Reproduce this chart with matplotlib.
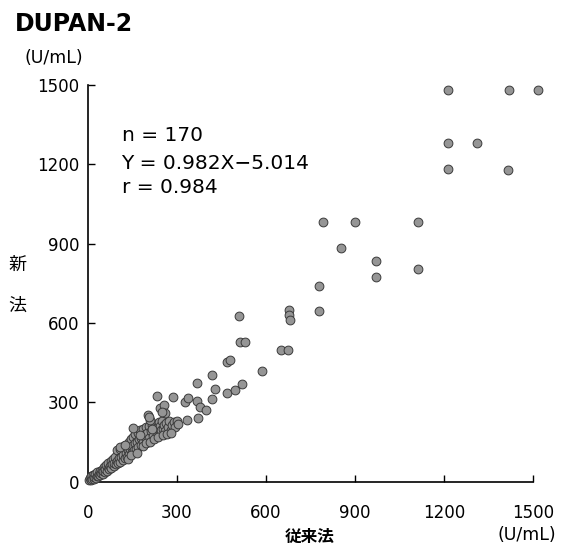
import matplotlib
matplotlib.use("Agg")
import matplotlib.pyplot as plt

plt.rcParams["font.family"] = ["DejaVu Sans", "Noto Sans CJK JP"]

# conventional method (x) vs new method (y), U/mL
# sparse / high-value points
x_high = [1214, 1420, 1517, 1214, 1313, 1214, 1416, 793, 901, 1113, 853, 972, 972,
          1113, 778, 778, 678, 678, 680, 510, 513, 530, 651, 676, 588, 468, 479, 418,
          367, 429, 418, 468, 496, 519, 232, 286, 244, 257, 260, 250, 204, 210, 206,
          328, 339, 367, 378, 398, 333, 373, 154]
y_high = [1481, 1481, 1481, 1282, 1282, 1182, 1179, 983, 983, 981, 882, 834, 775,
          803, 741, 647, 650, 630, 612, 628, 529, 529, 498, 498, 417, 454, 460, 402,
          372, 350, 313, 334, 347, 369, 324, 321, 277, 290, 258, 265, 252, 233, 243,
          302, 315, 306, 284, 271, 233, 240, 202]

# dense low-value cluster
x_low = [5, 8, 10, 12, 15, 18, 20, 22, 25, 28, 30, 32, 35, 38, 40, 42, 45, 48, 50,
         52, 55, 58, 60, 62, 65, 68, 70, 72, 75, 78, 80, 82, 85, 88, 90, 92, 95, 98, 100,
         102, 105, 108, 110, 112, 115, 118, 120, 122, 125, 128, 130, 132, 135, 138, 140,
         142, 145, 148, 150,
         152, 155, 158, 160, 162, 165, 168, 170, 172, 175, 178, 180, 185, 188, 190, 195, 198,
         200, 205, 208, 212, 215, 220, 225, 228, 232, 235, 240, 242, 245, 248, 250,
         255, 258, 262, 265, 270, 275, 280, 285, 290, 295, 300, 305,
         110, 125, 135, 145, 165, 175, 185, 195, 210, 222, 238, 255, 268, 282, 215]
y_low = [8, 15, 5, 20, 12, 25, 10, 18, 30, 15, 22, 35, 20, 28, 40, 25, 33, 45, 30,
         40, 55, 35, 48, 62, 42, 55, 70, 48, 60, 78, 52, 66, 85, 58, 72, 95, 65, 80, 118,
         70, 88, 125, 75, 95, 130, 82, 100, 135, 90, 110, 140, 95, 118, 150, 105,
         125, 160, 112, 135,
         170, 118, 145, 180, 125, 150, 185, 130, 160, 195, 140, 165, 198, 150, 175, 205, 160,
         185, 210, 165, 190, 215, 172, 198, 220, 180, 205, 225, 185, 210, 195, 228,
         200, 215, 190, 222, 205, 228, 195, 215, 225, 205, 230, 218,
         130, 140, 85, 100, 110, 175, 135, 145, 150, 160, 170, 175, 180, 185, 200]

ticks = [0, 300, 600, 900, 1200, 1500]
stats = ["n = 170", "Y = 0.982X\u22125.014", "r = 0.984"]

fig = plt.figure(figsize=(5.61, 5.46), dpi=100)
ax = fig.add_axes([0.1563, 0.1178, 0.7937, 0.7265])

ax.scatter(x_low + x_high, y_low + y_high, s=40, c="#959595",
           edgecolors="#3a3a3a", linewidths=0.7, clip_on=False, zorder=3)

ax.set_xlim(0, 1500)
ax.set_ylim(0, 1500)
ax.set_xticks(ticks)
ax.set_yticks(ticks)
ax.spines["top"].set_visible(False)
ax.spines["right"].set_visible(False)
for s in ["left", "bottom"]:
    ax.spines[s].set_linewidth(1.2)
ax.tick_params(axis="both", direction="in", length=5, width=1, labelsize=12)
ax.tick_params(axis="x", pad=16)
ax.tick_params(axis="y", pad=6)

# regression summary, one line each
for txt, yy in zip(stats, [0.872, 0.803, 0.742]):
    ax.text(0.076, yy, txt, transform=ax.transAxes, fontsize=14.5,
            va="center", ha="left")

fig.text(15 / 561, 1 - 24 / 546, "DUPAN-2", fontsize=17, fontweight="bold",
         ha="left", va="center")
fig.text(24 / 561, 1 - 58 / 546, "(U/mL)", fontsize=12.5, ha="left", va="center")
fig.text(17 / 561, 1 - 265 / 546, "新", fontsize=13, ha="center", va="center")
fig.text(17 / 561, 1 - 306 / 546, "法", fontsize=13, ha="center", va="center")
fig.text(310 / 561, 1 - 537 / 546, "従来法", fontsize=12, fontweight="bold",
         ha="center", va="center")
fig.text(527 / 561, 1 - 535 / 546, "(U/mL)", fontsize=12.5, ha="center", va="center")

fig.savefig("out.png", dpi=100)
